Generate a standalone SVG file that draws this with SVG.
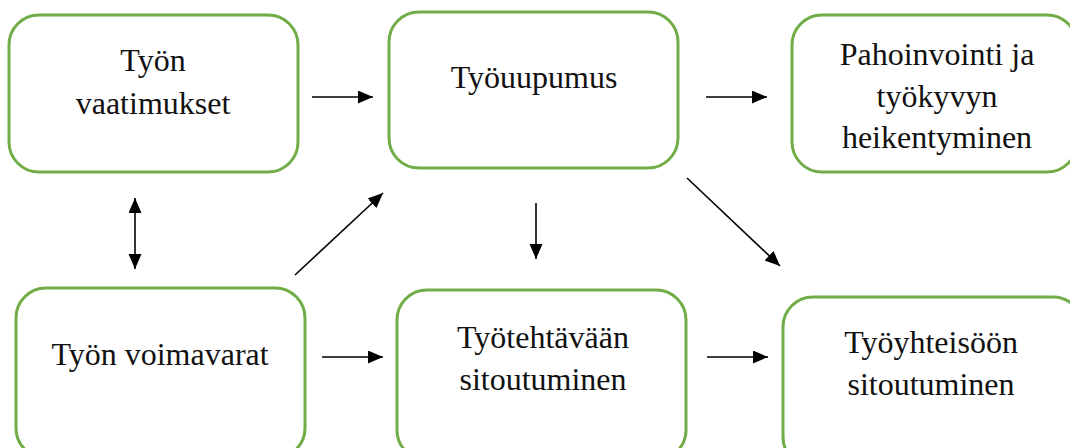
<svg xmlns="http://www.w3.org/2000/svg" width="1070" height="448" viewBox="0 0 1070 448">
<style>
.box{fill:#fff;stroke:#70ad47;stroke-width:3}
.t{font-family:'Liberation Serif','DejaVu Serif',serif;font-size:32px;fill:#111;text-anchor:middle}
.c{stroke:#000;stroke-width:1.6;fill:none}
</style>
<defs>
<marker id="ah" markerUnits="userSpaceOnUse" markerWidth="16" markerHeight="14" refX="15" refY="6.5" orient="auto-start-reverse">
<path d="M0,0 L15,6.5 L0,13 z" fill="#000"/>
</marker>
</defs>
<rect width="1070" height="448" fill="#fff"/>
<g id="n1"><rect class="box" x="9" y="15" width="289" height="157" rx="30"/><text class="t" x="153" y="71">Työn</text><text class="t" x="153" y="114">vaatimukset</text></g>
<g id="n2"><rect class="box" x="389" y="12" width="289" height="156" rx="30"/><text class="t" x="534" y="88">Työuupumus</text></g>
<g id="n3"><rect class="box" x="792" y="15" width="285" height="157" rx="30"/><text class="t" x="937" y="65">Pahoinvointi ja</text><text class="t" x="937" y="107">työkyvyn</text><text class="t" x="937" y="148">heikentyminen</text></g>
<g id="n4"><rect class="box" x="16" y="288" width="289" height="170" rx="30"/><text class="t" x="160" y="365">Työn voimavarat</text></g>
<g id="n5"><rect class="box" x="397" y="290" width="289" height="170" rx="30"/><text class="t" x="543" y="348">Työtehtävään</text><text class="t" x="543" y="390">sitoutuminen</text></g>
<g id="n6"><rect class="box" x="783" y="297" width="300" height="170" rx="30"/><text class="t" x="931" y="353">Työyhteisöön</text><text class="t" x="931" y="395">sitoutuminen</text></g>
<g id="connectors">
<line class="c" x1="312" y1="97" x2="373" y2="97" marker-end="url(#ah)"/>
<line class="c" x1="706" y1="97" x2="767" y2="97" marker-end="url(#ah)"/>
<line class="c" x1="135" y1="198" x2="135" y2="269" marker-start="url(#ah)" marker-end="url(#ah)"/>
<line class="c" x1="295" y1="275" x2="383" y2="193" marker-end="url(#ah)"/>
<line class="c" x1="536" y1="203" x2="536" y2="259" marker-end="url(#ah)"/>
<line class="c" x1="687" y1="178" x2="780" y2="266" marker-end="url(#ah)"/>
<line class="c" x1="322" y1="357" x2="383" y2="357" marker-end="url(#ah)"/>
<line class="c" x1="707" y1="357" x2="768" y2="357" marker-end="url(#ah)"/>
</g>
</svg>
